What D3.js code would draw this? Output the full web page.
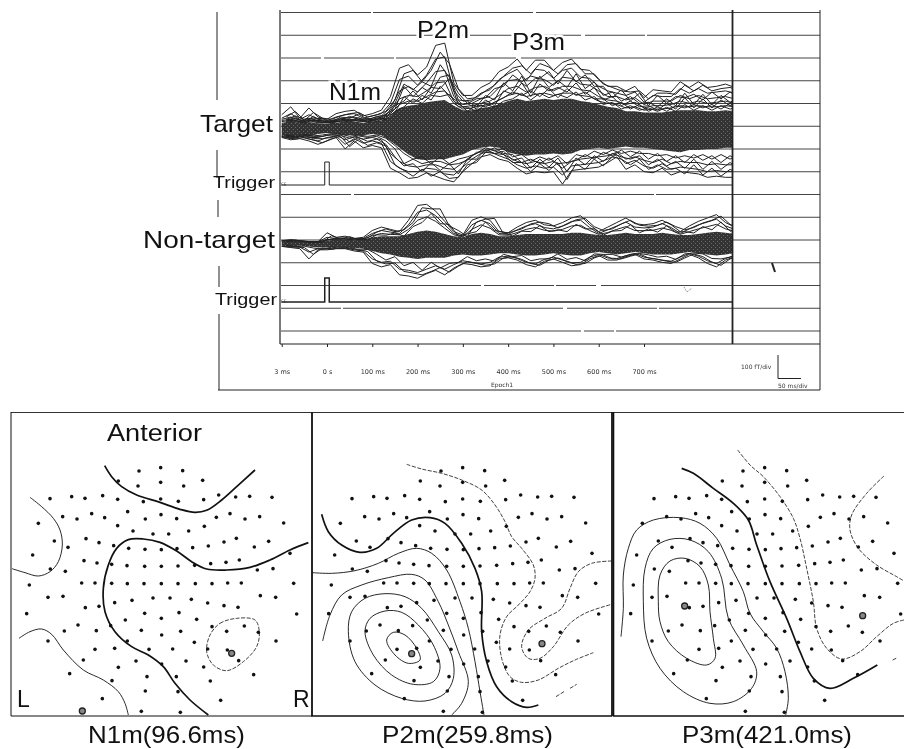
<!DOCTYPE html>
<html><head><meta charset="utf-8">
<script src="https://cdnjs.cloudflare.com/ajax/libs/d3/7.8.5/d3.min.js"></script>
<style>html,body{margin:0;padding:0;background:#fff}svg{display:block;filter:blur(0.3px)}text{font-family:"Liberation Sans",sans-serif;fill:#111}</style>
</head><body><svg id="c" width="904" height="749"></svg>
<script>
// ---- waveform data (fT) sampled every 20 ms from -100 ms to 900 ms
const times=[-100,-80,-60,-40,-20,0,20,40,60,80,100,120,140,160,180,200,220,240,260,280,300,320,340,360,380,400,420,440,460,480,500,520,540,560,580,600,620,640,660,680,700,720,740,760,780,800,820,840,860,880,900];
// the extra channels were read on a grid 10 ms later, so their peaks fall between the others
const timesB=[-90,-70,-50,-30,-10,10,30,50,70,90,110,130,150,170,190,210,230,250,270,290,310,330,350,370,390,410,430,450,470,490,510,530,550,570,590,610,630,650,670,690,710,730,750,770,790,810,830,850,870,890,910];
const tickTimes=[-100,0,100,200,300,400,500,600,700];
const tickLabels=["3 ms","0 s","100 ms","200 ms","300 ms","400 ms","500 ms","600 ms","700 ms"];
const targetU1=[45,80,30,75,35,25,50,60,65,40,50,65,125,250,265,220,255,350,360,185,130,130,165,185,235,255,290,240,285,285,240,275,290,245,240,200,170,170,150,170,120,155,150,145,190,165,190,165,170,180,165];
const targetU2=[30,50,25,45,25,20,35,45,50,30,40,50,95,200,215,175,220,290,300,150,105,110,140,155,200,225,245,195,245,240,205,240,250,210,205,170,150,140,130,145,100,130,125,125,160,140,160,140,145,150,140];
const targetU3=[25,35,20,30,20,15,25,30,35,25,30,40,75,150,170,145,185,235,240,125,90,95,115,125,165,195,200,170,205,200,175,210,205,180,175,150,125,125,110,120,90,105,105,105,130,115,130,115,120,125,115];
const targetU4=[20,25,15,25,15,10,20,25,25,20,25,35,60,115,130,125,150,185,190,105,80,85,95,105,130,160,170,145,165,170,150,170,170,155,150,125,110,105,90,100,75,85,85,90,105,95,105,95,100,105,95];
const targetU5=[15,20,10,20,10,10,15,20,20,15,20,30,50,90,105,105,125,145,150,95,70,75,85,90,110,130,140,125,135,140,130,140,140,130,125,105,95,90,75,80,65,70,70,75,85,80,85,80,80,85,80];
const targetU6=[35,60,20,55,30,25,40,50,55,35,45,60,110,225,240,190,240,320,270,160,115,120,150,175,215,250,260,225,270,255,225,265,270,225,225,180,165,150,145,150,115,140,140,135,175,150,175,150,160,165,150];
const targetU7=[25,40,25,30,28,12,35,30,48,22,38,42,95,180,155,190,170,265,210,140,95,115,120,160,170,220,190,215,205,235,180,240,190,220,170,170,120,155,105,140,85,130,95,125,120,135,110,145,115,145,120];
const targetU8=[22,32,12,38,14,20,22,38,24,28,22,48,70,170,125,165,140,210,220,110,105,80,130,110,185,150,215,140,215,165,195,165,225,160,190,130,145,105,125,95,100,80,115,85,140,90,135,90,130,100,120];
const targetU9=[18,28,18,20,20,8,28,18,32,14,30,28,85,105,150,110,165,160,205,90,95,70,110,85,150,135,185,125,180,150,165,145,185,135,165,110,125,85,105,80,85,65,95,70,120,75,115,75,110,85,100];
const targetU10=[16,22,8,24,10,14,16,26,16,22,16,36,55,125,95,130,110,170,130,100,60,88,80,100,120,145,130,150,125,160,120,160,130,145,115,115,85,100,70,90,60,80,60,85,75,90,75,90,70,95,70];
const targetU11=[12,18,12,14,12,8,18,14,22,12,22,24,60,80,115,95,130,125,135,80,78,60,92,78,105,115,140,110,140,120,135,120,145,110,125,90,100,70,85,65,75,60,78,60,90,65,85,65,85,70,80];
const targetTop=[10,15,10,12,8,5,10,15,15,10,15,20,40,75,85,90,100,105,110,85,65,65,75,80,90,105,115,105,110,115,110,115,115,105,100,90,80,75,60,60,55,55,55,60,65,65,65,60,60,65,60];
const targetBot=[-50,-55,-45,-50,-40,-35,-40,-45,-45,-45,-40,-45,-70,-100,-130,-150,-155,-150,-150,-140,-130,-110,-100,-95,-100,-120,-130,-135,-130,-130,-125,-130,-125,-110,-105,-100,-105,-100,-95,-100,-100,-105,-110,-115,-120,-110,-110,-105,-105,-100,-100];
const targetL1=[-55,-65,-60,-70,-85,-70,-55,-105,-70,-100,-90,-100,-190,-210,-235,-230,-210,-225,-240,-250,-205,-170,-140,-130,-150,-160,-190,-215,-205,-210,-205,-260,-200,-195,-190,-185,-165,-140,-195,-175,-205,-210,-190,-220,-205,-210,-215,-230,-225,-230,-230];
const targetL2=[-52,-60,-52,-62,-70,-55,-48,-85,-60,-80,-70,-80,-160,-190,-205,-205,-190,-195,-215,-220,-185,-150,-125,-118,-135,-150,-175,-190,-180,-190,-185,-220,-180,-175,-170,-165,-150,-130,-170,-155,-180,-190,-170,-195,-185,-190,-195,-205,-200,-205,-205];
const targetL3=[-50,-58,-48,-55,-55,-45,-44,-65,-52,-62,-55,-65,-125,-160,-180,-185,-175,-175,-190,-195,-165,-135,-115,-108,-120,-140,-160,-170,-160,-170,-160,-190,-160,-150,-145,-140,-135,-120,-150,-140,-155,-165,-150,-170,-160,-165,-165,-175,-170,-175,-175];
const targetL4=[-53,-62,-55,-66,-78,-60,-50,-95,-62,-90,-78,-92,-175,-200,-225,-195,-225,-205,-235,-230,-175,-165,-120,-125,-130,-165,-165,-205,-170,-200,-165,-240,-170,-195,-150,-180,-140,-150,-175,-150,-195,-175,-195,-190,-215,-175,-220,-190,-225,-195,-215];
const targetL5=[-48,-58,-46,-60,-60,-55,-42,-75,-55,-72,-62,-85,-140,-180,-170,-205,-165,-200,-170,-215,-150,-150,-108,-125,-115,-155,-145,-190,-150,-185,-145,-205,-145,-175,-135,-160,-125,-140,-150,-135,-175,-150,-180,-160,-190,-150,-195,-160,-195,-165,-190];
const targetL6=[-46,-52,-48,-50,-50,-42,-46,-58,-48,-55,-50,-70,-105,-170,-150,-170,-160,-160,-175,-170,-155,-120,-118,-100,-125,-130,-165,-150,-170,-145,-170,-165,-155,-130,-150,-120,-135,-110,-140,-115,-150,-125,-160,-135,-165,-130,-155,-135,-165,-135,-160];
const targetL7=[-44,-50,-42,-48,-44,-38,-40,-50,-44,-50,-44,-58,-90,-125,-150,-140,-170,-140,-170,-150,-140,-125,-100,-112,-105,-140,-130,-160,-140,-155,-135,-170,-130,-140,-115,-130,-110,-125,-115,-125,-125,-135,-130,-145,-135,-145,-130,-150,-130,-150,-130];
const nonTargetU1=[10,15,10,5,5,45,25,30,20,25,55,70,60,50,100,165,170,140,95,50,35,100,115,100,50,45,70,90,100,80,75,90,110,120,80,50,70,90,110,85,80,85,100,80,50,75,95,110,125,90,70];
const nonTargetU2=[9,12,9,5,5,25,20,22,18,20,42,55,48,42,80,135,145,120,80,42,30,80,100,85,42,38,58,75,85,68,62,75,95,100,68,42,58,75,92,70,66,70,85,68,42,62,80,92,105,75,60];
const nonTargetU3=[8,11,8,5,5,15,16,17,14,17,32,42,38,36,60,100,115,95,65,36,27,60,80,65,36,34,46,60,68,56,52,60,75,78,55,38,46,60,72,55,54,56,66,56,38,50,62,72,82,62,52];
const nonTargetU4=[10,13,6,7,4,32,18,28,14,23,48,62,50,58,90,155,150,150,75,55,28,92,105,108,40,50,62,84,92,85,66,82,102,108,72,55,62,84,100,78,74,78,92,72,58,68,88,100,118,82,66];
const nonTargetU5=[7,9,9,4,6,18,22,16,20,14,36,34,44,30,72,90,130,85,82,30,40,50,92,55,48,30,52,50,76,50,58,50,82,62,62,35,52,55,80,45,62,48,75,48,50,44,72,58,92,52,58];
const nonTargetTop=[8,10,8,5,5,10,15,15,12,15,25,30,30,30,40,50,55,50,40,30,25,40,45,40,30,30,35,40,40,40,40,40,45,45,40,35,35,40,45,40,40,40,45,40,35,35,40,45,50,45,40];
const nonTargetBot=[-12,-15,-12,-15,-20,-20,-18,-18,-22,-25,-35,-45,-50,-60,-65,-70,-65,-65,-65,-55,-50,-55,-55,-50,-45,-45,-50,-55,-55,-50,-45,-50,-55,-55,-45,-40,-45,-50,-45,-40,-45,-50,-50,-50,-45,-40,-45,-50,-55,-50,-45];
const nonTargetL1=[-15,-20,-25,-70,-30,-30,-25,-25,-35,-40,-90,-105,-95,-140,-145,-155,-135,-120,-140,-110,-90,-95,-105,-100,-70,-65,-75,-95,-105,-80,-70,-85,-100,-95,-70,-55,-75,-75,-60,-50,-70,-75,-85,-90,-70,-50,-65,-90,-105,-75,-60];
const nonTargetL2=[-14,-18,-18,-40,-25,-25,-22,-22,-30,-35,-70,-85,-80,-115,-120,-130,-115,-100,-115,-95,-78,-85,-92,-85,-62,-58,-68,-85,-92,-72,-62,-75,-88,-85,-62,-50,-66,-68,-56,-46,-62,-68,-75,-80,-62,-46,-58,-78,-90,-68,-55];
const nonTargetL3=[-13,-17,-20,-50,-22,-28,-20,-24,-28,-38,-80,-92,-88,-125,-132,-140,-125,-108,-128,-102,-82,-90,-98,-92,-66,-60,-72,-90,-98,-76,-66,-80,-94,-90,-66,-52,-70,-70,-58,-48,-66,-72,-80,-85,-66,-48,-60,-84,-98,-70,-58];
const nonTargetL4=[-11,-16,-14,-22,-28,-18,-24,-18,-32,-28,-50,-75,-60,-100,-85,-120,-85,-110,-90,-85,-60,-78,-70,-80,-50,-60,-55,-78,-70,-70,-48,-72,-64,-78,-48,-50,-50,-62,-50,-46,-52,-62,-58,-72,-48,-44,-48,-68,-70,-62,-48];
const triggerTimes=[-100,-5,-5,5,5,900];
const triggerValues=[0,0,100,100,0,0];
// ---- sensor positions on the head map (map units)
const sensors=[[417,198],[482,188],[548,197],[608,226],[355,228],[414,243],[482,232],[551,243],[150,281],[215,275],[255,280],[308,272],[353,283],[430,290],[482,282],[535,289],[611,284],[656,270],[707,276],[749,274],[816,277],[188,335],[231,342],[275,326],[314,338],[383,320],[436,342],[483,329],[530,341],[649,337],[690,326],[735,342],[779,335],[851,354],[115,355],[353,362],[399,378],[459,387],[506,387],[566,378],[613,364],[163,408],[258,401],[297,413],[341,422],[386,430],[435,433],[484,434],[531,431],[578,428],[625,423],[672,411],[709,400],[763,426],[806,409],[870,445],[204,427],[98,450],[252,467],[291,474],[335,478],[381,482],[434,484],[484,484],[534,483],[584,481],[632,476],[678,472],[718,465],[772,495],[819,491],[151,492],[196,499],[88,540],[245,534],[285,534],[335,535],[382,536],[432,536],[484,536],[534,536],[586,536],[636,536],[683,534],[724,534],[881,535],[144,577],[189,574],[781,572],[827,577],[256,608],[297,604],[344,593],[396,586],[459,579],[510,579],[574,583],[623,594],[672,602],[714,607],[80,626],[890,627],[434,625],[537,623],[484,640],[376,645],[590,643],[234,660],[193,678],[289,677],[332,662],[424,676],[485,690],[542,679],[636,665],[680,679],[733,663],[775,682],[144,708],[382,708],[583,712],[828,708],[285,733],[344,730],[447,733],[518,732],[623,732],[682,735],[716,767],[250,765],[408,768],[485,777],[558,768],[355,787],[611,786],[209,806],[441,815],[336,827],[529,815],[631,828],[761,809],[436,858],[534,860],[307,881],[662,886],[424,919],[541,922]];
// ---- contours of each field map
const n1Contours=[
 {k:"thick",p:[[314,182],[335,215],[365,245],[410,270],[480,292],[540,313],[585,322],[620,316],[665,285],[710,245],[765,195]]},
 {k:"thin",p:[[90,277],[125,305],[160,340],[180,375],[187,420],[175,470],[150,500],[115,513],[75,503],[36,491]]},
 {k:"thick",p:[[925,413],[870,435],[810,465],[750,487],[680,495],[620,492],[575,470],[530,438],[480,412],[430,402],[385,404],[350,430],[325,480],[310,550],[315,620],[345,680],[395,725],[445,750],[490,785],[525,835],[570,885],[625,930]]},
 {k:"thin",p:[[57,700],[90,680],[125,672],[155,688],[190,735],[250,795],[310,825],[355,860],[375,895],[385,930]]},
 {k:"dash",closed:true,p:[[630,690],[660,655],[710,640],[765,645],[778,680],[770,725],[730,770],[680,797],[640,780],[620,740]]}];
const p2Contours=[
 {k:"dash",p:[[305,178],[350,192],[410,205],[470,225],[530,255],[570,300],[600,350],[620,395],[650,430],[685,480],[690,520],[675,560],[640,600],[605,635],[585,690],[590,760],[615,815],[650,832],[700,825],[760,790],[810,765],[865,743]]},
 {k:"dash",p:[[753,875],[780,858]]},{k:"dash",p:[[795,850],[815,838]]},
 {k:"dash",p:[[920,468],[860,475],[820,500],[795,550],[770,610],[720,640],[670,675],[650,725],[670,760],[705,760],[745,725],[790,660],[840,625],[920,598]]},
 {k:"thick",p:[[50,328],[70,380],[110,420],[165,442],[215,430],[265,385],[320,345],[375,338],[420,355],[470,415],[510,490],[530,560],[530,680],[545,770],[575,845],[620,890],[665,907],[700,900]]},
 {k:"thin",p:[[22,503],[80,505],[150,497],[220,475],[280,445],[335,430],[380,445],[425,495],[465,590],[490,670],[510,770],[525,860],[537,930]]},
 {k:"thin",p:[[53,708],[75,630],[110,570],[170,540],[250,518],[320,508],[360,525],[400,590],[430,660],[460,740],[490,830],[470,895],[440,930]]},
 {k:"thin",closed:true,p:[[130,680],[140,620],[180,580],[240,566],[300,575],[350,610],[400,680],[440,750],[445,820],[420,865],[360,888],[290,880],[210,840],[150,770]]},
 {k:"thin",closed:true,p:[[180,680],[195,640],[240,618],[290,622],[340,660],[385,720],[405,790],[385,830],[325,838],[260,810],[205,750]]},
 {k:"thin",closed:true,p:[[245,705],[265,682],[300,690],[335,730],[345,765],[310,775],[270,750]]}];
const p3Contours=[
 {k:"dash",p:[[413,135],[450,180],[490,215],[540,275],[580,340],[600,400],[620,490],[640,590],[650,670],[680,730],[725,762],[780,740],[830,695],[880,655],[912,645]]},
 {k:"dash",p:[[878,765],[892,758]]},
 {k:"dash",p:[[852,213],[800,265],[755,330],[750,375],[775,430],[830,480],[890,515],[912,528]]},
 {k:"thick",p:[[245,190],[280,205],[340,250],[400,295],[445,345],[470,420],[510,530],[560,640],[600,740],[640,820],[690,850],[760,820],[832,780]]},
 {k:"thin",p:[[63,695],[70,610],[70,510],[85,430],[110,375],[160,345],[240,338],[300,355],[350,400],[390,480],[430,560],[450,625],[490,680],[530,730],[555,800],[565,880],[557,930]]},
 {k:"thin",closed:true,p:[[130,590],[135,490],[160,430],[210,403],[270,405],[325,440],[365,520],[385,640],[430,720],[470,800],[455,850],[400,890],[330,895],[250,860],[180,790],[140,700]]},
 {k:"thin",closed:true,p:[[175,590],[180,510],[210,468],[255,460],[300,485],[325,540],[330,620],[340,700],[345,760],[320,780],[260,760],[205,710],[180,650]]}];
const n1Highlights=[[247,918],[695,745]];
const p2Highlights=[[320,746],[711,716]];
const p3Highlights=[[254,603],[788,632]];
const captions=["N1m(96.6ms)","P2m(259.8ms)","P3m(421.0ms)"];

const svg=d3.select("#c");
const defs=svg.append("defs");
const pat=defs.append("pattern").attr("id","dense").attr("width",4).attr("height",4).attr("patternUnits","userSpaceOnUse");
pat.append("rect").attr("width",4).attr("height",4).attr("fill","#333");
pat.append("rect").attr("x",1).attr("y",1).attr("width",1).attr("height",1).attr("fill","#6a6a6a");
pat.append("rect").attr("x",3).attr("y",3).attr("width",1).attr("height",1).attr("fill","#6a6a6a");
defs.append("clipPath").attr("id","plotClip").append("rect").attr("x",280).attr("y",8).attr("width",452).attr("height",340);

// ---- upper recording panel
const x=d3.scaleLinear().domain([0,700]).range([327,644]);
const yT=d3.scaleLinear().domain([0,100]).range([125,102.25]);
const yN=d3.scaleLinear().domain([0,100]).range([243,220.25]);
const yTrigT=d3.scaleLinear().domain([0,100]).range([185,162]);
const yTrigN=d3.scaleLinear().domain([0,100]).range([302,278]);
const yGrid=d3.scaleLinear().domain([0,14]).range([12.5,331]);
const grid=svg.append("g");
const gridDash=["90 2 160 3 290 2","300 4 60 2 180 2","40 3 70 2 120 5 300 2","560","180 3 90 2 270 2","560","240 4 30 2 290 2","400 2 150 2","70 3 300 2 190 2","560","100 4 30 3 200 2 220 2","560","200 3 70 2 40 5 240 2","60 2 220 4 90 2 180 2","300 3 30 2 230 2"];
d3.range(15).forEach(i=>grid.append("line").attr("x1",281).attr("x2",820).attr("y1",yGrid(i)).attr("y2",yGrid(i)).attr("stroke","#444").attr("stroke-width",1).attr("stroke-dasharray",gridDash[i]));

const plot=svg.append("g").attr("clip-path","url(#plotClip)");
function butterfly(y,top,bot,lines,linesB){
  const ar=d3.area().x((d,i)=>x(times[i])).y0((d,i)=>y(bot[i])).y1((d,i)=>y(top[i]));
  plot.append("path").attr("d",ar(top)).attr("fill","url(#dense)");
  [[lines,times],[linesB,timesB]].forEach(([set,ts])=>{
    const ln=d3.line().x((d,i)=>x(ts[i])).y(d=>y(d));
    set.forEach(s=>plot.append("path").attr("d",ln(s)).attr("fill","none").attr("stroke","#222").attr("stroke-width",1));
  });
}
butterfly(yT,targetTop,targetBot,[targetU1,targetU2,targetU3,targetU4,targetU5,targetL1,targetL2,targetL3],[targetU6,targetU7,targetU8,targetU9,targetU10,targetU11,targetL4,targetL5,targetL6,targetL7]);
butterfly(yN,nonTargetTop,nonTargetBot,[nonTargetU1,nonTargetU2,nonTargetU3,nonTargetL1,nonTargetL2],[nonTargetU4,nonTargetU5,nonTargetL3,nonTargetL4]);
[[yTrigT,1],[yTrigN,1.5]].forEach(([y,w])=>{
  plot.append("path").attr("d",d3.line().x((d,i)=>x(triggerTimes[i])).y(d=>y(d))(triggerValues)).attr("fill","none").attr("stroke","#222").attr("stroke-width",w);
});

// frames
const frame=svg.append("g").attr("stroke","#222").attr("fill","none");
[[280,10,280,344,1.2],[732.5,10,732.5,344,1.8],[820,10,820,390,1],[280,344,820,344,1.2],[218,390,820,390,1],
 [217,12,217,100,1],[217,150,217,178,1],[218,200,218,217,1],[219,266,219,287,1],[219,314,219,390,1]]
 .forEach(l=>frame.append("line").attr("x1",l[0]).attr("y1",l[1]).attr("x2",l[2]).attr("y2",l[3]).attr("stroke-width",l[4]));
// scale bar + stray marks
frame.append("path").attr("d","M778 355V378.5H801").attr("stroke-width",1);
frame.append("path").attr("d","M772 263L775 272").attr("stroke-width",2);
frame.append("path").attr("d","M684 287L687 292L692 288").attr("stroke-width",.6).attr("stroke-dasharray","1 1");

// time axis
const axis=d3.axisBottom(x).tickValues(tickTimes).tickSize(3).tickPadding(22).tickFormat((d,i)=>tickLabels[i]);
const ax=svg.append("g").attr("transform","translate(0,344)").call(axis);
ax.select(".domain").remove();
ax.selectAll("line").attr("stroke","#222");
ax.selectAll("text").style("font-size","6.5px").style("font-family","'DejaVu Sans'").style("fill","#333");

function label(t,xp,yp,size,opt={}){
  const e=svg.append("text").attr("x",xp).attr("y",yp).attr("font-size",size).text(t);
  if(opt.len) e.attr("textLength",opt.len).attr("lengthAdjust","spacingAndGlyphs");
  if(opt.halo) e.attr("paint-order","stroke").attr("stroke","#fff").attr("stroke-width",opt.halo);
  if(opt.style) e.style("font-family",opt.style).style("fill","#333");
  return e;
}
label("P2m",417,38,24,{len:52,halo:5});
label("P3m",512,50,24,{len:53,halo:5});
label("N1m",329,100,24,{len:52,halo:5});
label("Target",200,132,24,{len:73});
label("Non-target",143,248,24,{len:132});
label("Trigger",213,188,17,{len:62});
label("Trigger",215,305,17,{len:62});
label("EE",281,186,4.5,{style:"'DejaVu Sans'"});
label("EE",281,303,4.5,{style:"'DejaVu Sans'"});
label("Epoch1",491,387,6,{style:"'DejaVu Sans'"});
label("100 fT/div",741,369,6,{style:"'DejaVu Sans'"});
label("50 ms/div",778,388,6,{style:"'DejaVu Sans'"});

// ---- field maps
const mx=d3.scaleLinear().domain([0,945]).range([0,315]);
const my=d3.scaleLinear().domain([0,1032]).range([405,749]);
const styles={thick:{w:1.7,d:null},thin:{w:.9,d:null},dash:{w:.8,d:"4 1.5"}};
const panels=[
 {c:n1Contours,h:n1Highlights,dxC:0,dxS:0,frame:[11,312]},
 {c:p2Contours,h:p2Highlights,dxC:305,dxS:302,frame:[312,612]},
 {c:p3Contours,h:p3Highlights,dxC:600,dxS:604,frame:[613.5,905]}];
panels.forEach((pn,i)=>{
  const g=svg.append("g");
  g.append("path").attr("d",`M${pn.frame[0]} 412.5H${pn.frame[1]}`).attr("stroke","#333").attr("stroke-width",1);
  g.append("path").attr("d",`M${pn.frame[0]} 412V716H${pn.frame[1]}`).attr("stroke","#111").attr("fill","none").attr("stroke-width",i?1.6:1);
  if(i<2) g.append("path").attr("d",`M${pn.frame[1]} 412V716`).attr("stroke","#111").attr("stroke-width",i?1.8:1);
  const gc=g.append("g").attr("transform",`translate(${pn.dxC},0)`);
  pn.c.forEach(c=>{
    const l=d3.line().x(d=>mx(d[0])).y(d=>my(d[1])).curve(c.closed?d3.curveCatmullRomClosed:d3.curveCatmullRom);
    gc.append("path").attr("d",l(c.p)).attr("fill","none").attr("stroke","#111").attr("stroke-width",styles[c.k].w).attr("stroke-dasharray",styles[c.k].d);
  });
  const gs=g.append("g").attr("transform",`translate(${pn.dxS},0)`);
  gs.selectAll("circle").data(sensors).join("circle").attr("cx",d=>mx(d[0])).attr("cy",d=>my(d[1])).attr("r",1.8).attr("fill","#111");
  gc.selectAll("circle.h").data(pn.h).join("circle").attr("class","h").attr("cx",d=>mx(d[0])).attr("cy",d=>my(d[1])).attr("r",3).attr("fill","#888").attr("stroke","#222").attr("stroke-width",1.3);
});
label("Anterior",107,441,23,{len:95});
label("L",17,707,23);
label("R",293,707,23);
label(captions[0],88,743,24,{len:157});
label(captions[1],382,743,24,{len:171});
label(captions[2],682,743,24,{len:170});
</script></body></html>
